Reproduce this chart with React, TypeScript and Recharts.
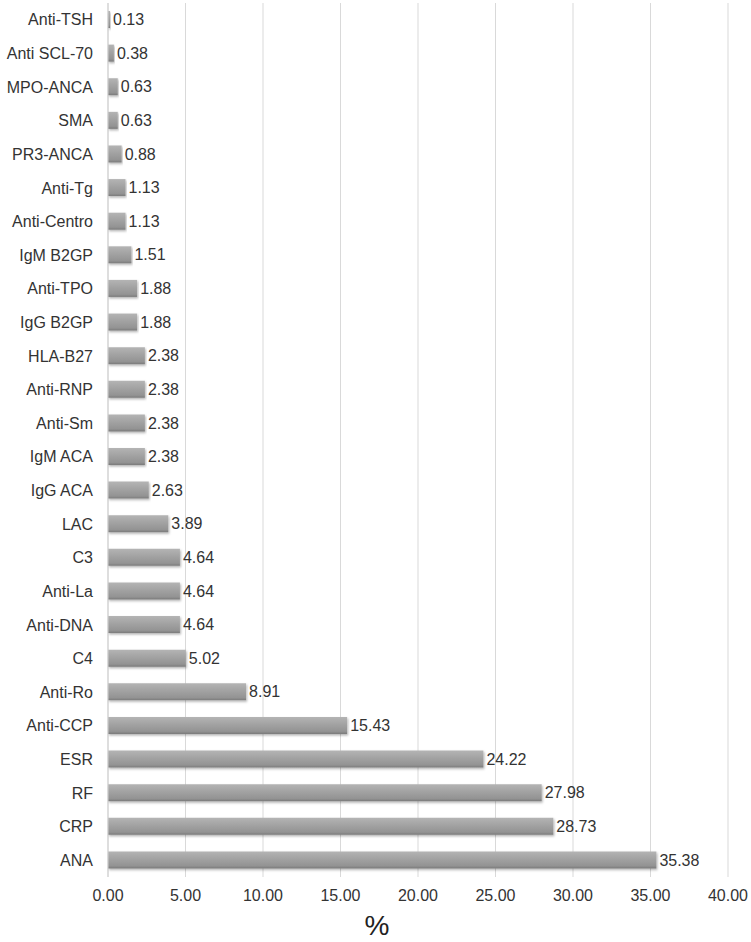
import { BarChart, Bar, XAxis, YAxis, CartesianGrid, LabelList } from "recharts";

const categories = [
   "Anti-TSH", "Anti SCL-70", "MPO-ANCA", "SMA", "PR3-ANCA", "Anti-Tg", "Anti-Centro",
   "IgM B2GP", "Anti-TPO", "IgG B2GP", "HLA-B27", "Anti-RNP", "Anti-Sm", "IgM ACA",
   "IgG ACA", "LAC", "C3", "Anti-La", "Anti-DNA", "C4", "Anti-Ro", "Anti-CCP", "ESR",
   "RF", "CRP", "ANA",
];

const percents = [
   0.13, 0.38, 0.63, 0.63, 0.88, 1.13, 1.13, 1.51, 1.88, 1.88, 2.38, 2.38, 2.38, 2.38,
   2.63, 3.89, 4.64, 4.64, 4.64, 5.02, 8.91, 15.43, 24.22, 27.98, 28.73, 35.38,
];

const xTicks = [0, 5, 10, 15, 20, 25, 30, 35, 40];

const data = categories.map((name, i) => ({ name, value: percents[i] }));

const font = "'Liberation Sans', Arial, sans-serif";

export default function App() {
   return (
      <div style={{ position: "absolute", left: 0, top: 0, background: "#fff" }}>
         <BarChart
            width={751}
            height={942}
            data={data}
            layout="vertical"
            barCategoryGap={0}
            margin={{ top: 3, right: 23, left: 0, bottom: 0 }}
         >
            <defs>
               <linearGradient id="barGrad" x1="0" y1="0" x2="0" y2="1">
                  <stop offset="0%" stopColor="#b4b4b4" />
                  <stop offset="45%" stopColor="#a2a2a2" />
                  <stop offset="85%" stopColor="#939393" />
                  <stop offset="100%" stopColor="#7a7a7a" />
               </linearGradient>
               <filter id="barShadow" x="-5%" y="-30%" width="110%" height="160%">
                  <feDropShadow dx="1" dy="1.5" stdDeviation="1" floodColor="#000" floodOpacity="0.3" />
               </filter>
            </defs>
            <CartesianGrid horizontal={false} stroke="#d9d9d9" />
            <XAxis
               type="number"
               domain={[0, 40]}
               ticks={xTicks}
               tickFormatter={(v: number) => v.toFixed(2)}
               axisLine={false}
               tickLine={false}
               tickMargin={7}
               height={65}
               tick={{ fill: "#333", fontSize: 16, fontFamily: font }}
               label={{
                  value: "%",
                  position: "insideBottom",
                  offset: 7,
                  dx: -41,
                  fontSize: 28,
                  fill: "#222",
                  fontFamily: font,
               }}
            />
            <YAxis
               type="category"
               dataKey="name"
               width={108}
               axisLine={{ stroke: "#d0d0d0" }}
               tickLine={false}
               tickMargin={9}
               interval={0}
               tick={{ fill: "#333", fontSize: 16, fontFamily: font }}
            />
            <Bar
               dataKey="value"
               barSize={17}
               fill="url(#barGrad)"
               filter="url(#barShadow)"
               isAnimationActive={false}
            >
               <LabelList
                  dataKey="value"
                  position="right"
                  offset={3}
                  formatter={(v: number) => v.toFixed(2)}
                  style={{ fill: "#333", fontSize: 16, fontFamily: font }}
               />
            </Bar>
         </BarChart>
      </div>
   );
}
